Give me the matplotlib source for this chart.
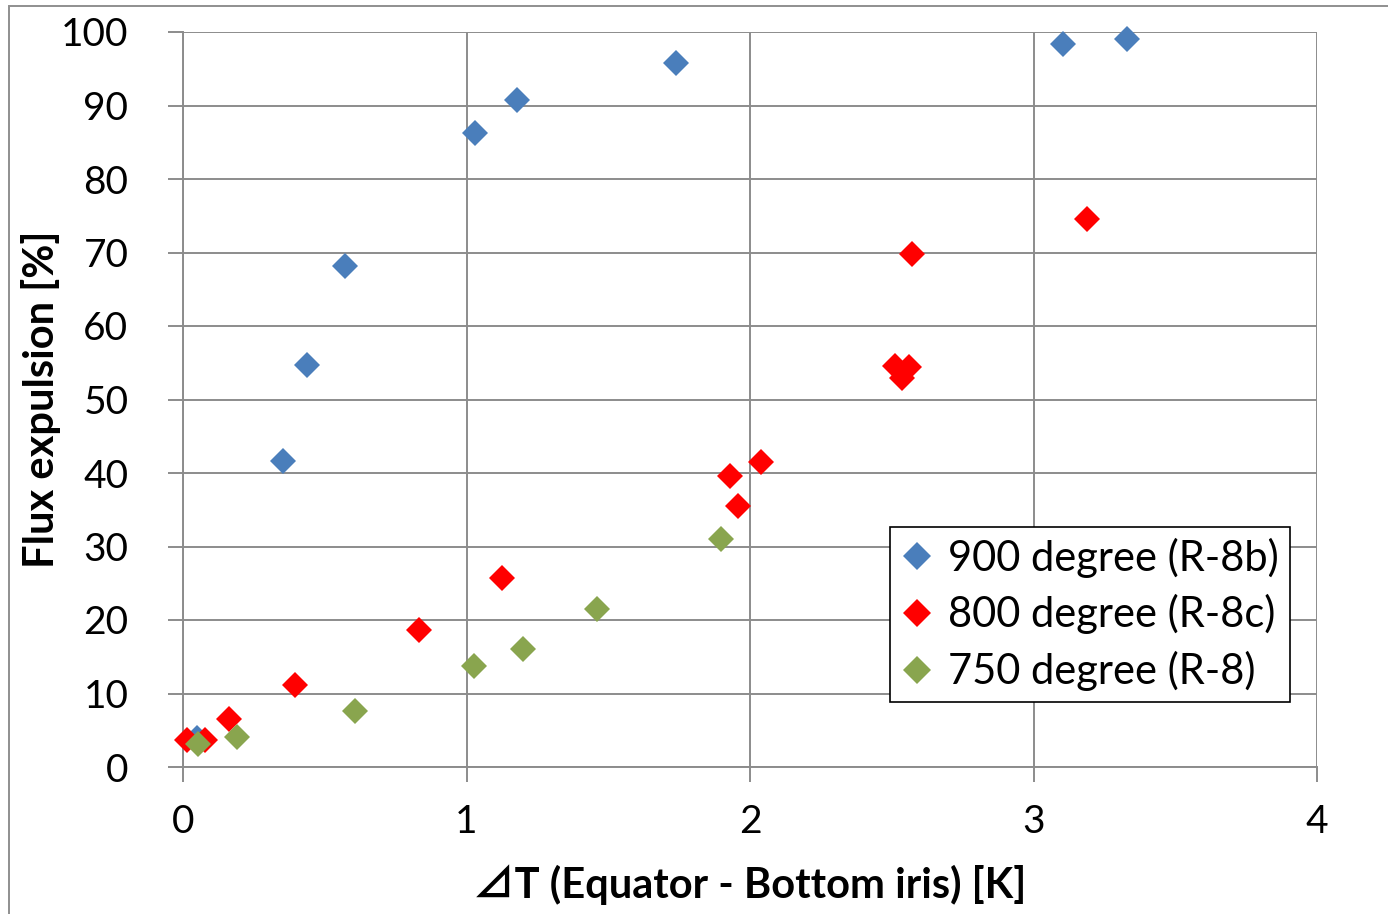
import matplotlib
matplotlib.use("Agg")
import matplotlib.pyplot as plt
from matplotlib.patches import Rectangle

# ---- data ----
x_900 = [0.05, 0.353, 0.437, 0.571, 1.03, 1.178, 1.739, 3.104, 3.33]
y_900 = [4.0, 41.6, 54.7, 68.2, 86.3, 90.7, 95.8, 98.4, 99.0]

x_800 = [0.014, 0.078, 0.162, 0.395, 0.832, 1.125, 1.929, 1.958, 2.039,
         2.511, 2.561, 2.536, 2.571, 3.189]
y_800 = [3.7, 3.7, 6.5, 11.2, 18.6, 25.7, 39.6, 35.5, 41.5,
         54.6, 54.4, 52.9, 69.8, 74.6]

x_750 = [0.053, 0.19, 0.607, 1.026, 1.2, 1.46, 1.898]
y_750 = [3.1, 4.1, 7.6, 13.7, 16.1, 21.5, 31.0]

labels = ["900 degree (R-8b)", "800 degree (R-8c)", "750 degree (R-8)"]
colors = ["#4A7EBB", "#FF0000", "#89A54E"]
x_ticks = [0, 1, 2, 3, 4]
y_ticks = [0, 10, 20, 30, 40, 50, 60, 70, 80, 90, 100]
xlabel = "⊿T (Equator - Bottom iris) [K]"
ylabel = "Flux expulsion [%]"

FAM = ["Lato", "DejaVu Sans"]
FAM_X = ["Lato", "Noto Sans CJK JP", "DejaVu Sans"]
plt.rcParams["font.family"] = FAM

W, H = 1388, 914
fig = plt.figure(figsize=(W / 100, H / 100), dpi=100)
fig.patch.set_facecolor("white")

# outer frame
fig.add_artist(Rectangle((9 / W, -0.1), 1.2, 1 - 6 / H + 0.1,
                         transform=fig.transFigure, fill=False,
                         edgecolor="#8f8f8f", linewidth=1.4, clip_on=False))

ax = fig.add_axes([183 / W, 1 - 767 / H, 1134 / W, 735 / H])
grid_c = "#8c8c8c"

for xs, ys, lab, c in zip([x_900, x_800, x_750], [y_900, y_800, y_750], labels, colors):
    ax.plot(xs, ys, linestyle="none", marker="D", markersize=12.8,
            markerfacecolor=c, markeredgewidth=0, label=lab, zorder=3,
            clip_on=False)

ax.set_xlim(0, 4)
ax.set_ylim(0, 100)
ax.set_xticks(x_ticks)
ax.set_yticks(y_ticks)
ax.grid(True, color=grid_c, linewidth=1.4)
ax.set_axisbelow(True)
for s in ["top", "right"]:
    ax.spines[s].set_visible(False)
for s in ["left", "bottom"]:
    ax.spines[s].set_color(grid_c)
    ax.spines[s].set_linewidth(1.4)

ax.tick_params(axis="y", direction="out", length=10.8, width=1.4, color=grid_c,
               labelsize=28, pad=28.5)
ax.tick_params(axis="x", direction="out", length=10.8, width=1.4, color=grid_c,
               labelsize=28, pad=16)

ax.set_xlabel(xlabel, fontsize=30, fontweight="bold", family=FAM_X)
ax.set_ylabel(ylabel, fontsize=30, fontweight="bold", family=FAM)
ax.yaxis.set_label_coords(-0.108, 0.5)
ax.xaxis.set_label_coords(0.5, -0.133)

leg = ax.legend(loc="upper left", bbox_to_anchor=(0.6235, 0.3265),
                borderaxespad=0, fontsize=30, frameon=True, fancybox=False,
                framealpha=1, edgecolor="black", handlelength=0.8,
                handletextpad=0.35, labelspacing=0.40, borderpad=0.25,
                markerscale=1.08)
leg.get_frame().set_linewidth(1.2)

fig.savefig("out.png", dpi=100)
